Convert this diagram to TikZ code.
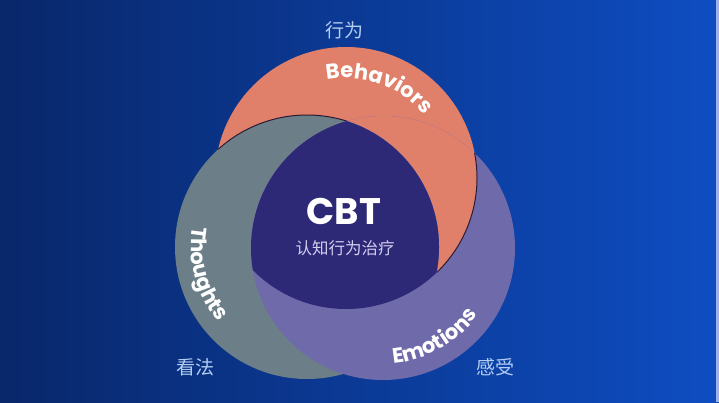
\documentclass[tikz,border=0pt]{standalone}
\usepackage{fontspec}
\usetikzlibrary{decorations.text}
\newfontfamily\pop{Poppins}
\newfontfamily\cjk{Noto Sans CJK SC}
\definecolor{bgA}{HTML}{09276A}
\definecolor{bgM}{HTML}{0B3A96}
\definecolor{bgB}{HTML}{0E4DC2}
\definecolor{salmon}{HTML}{E07F6A}
\definecolor{greyc}{HTML}{6C7E88}
\definecolor{lav}{HTML}{6F6AAA}
\definecolor{core}{HTML}{2E2977}
\definecolor{edgec}{HTML}{2A1C36}
\definecolor{labc}{HTML}{B3CEF2}
\definecolor{subc}{HTML}{D4CDF0}
\definecolor{stripc}{HTML}{9FB0E6}
\tikzset{
  ring/.style={decorate, decoration={text along path, text align=center, text color=white,
     text={|\pop\bfseries\fontsize{21}{24}\selectfont|#1}}},
  cnlabel/.style={text=labc, font=\cjk\fontsize{19}{22}\selectfont, inner sep=0pt},
  shadowedge/.style={draw=edgec, line width=1pt}
}
\begin{document}
\begin{tikzpicture}[x=1pt,y=1pt]
\useasboundingbox (0,0) rectangle (719,402);
\shade[left color=bgA, right color=bgB, middle color=bgM] (0,0) rectangle (719,402);
\fill[stripc] (716,0) rectangle (719,402);

\coordinate (S) at (346,224);
\coordinate (G) at (307,155);
\coordinate (P) at (383,154);

% salmon (Behaviors)
\fill[salmon] (S) circle[radius=131];
% purple (Emotions), under salmon
\fill[lav] (P) circle[radius=132];
\begin{scope}
  \clip (P) circle[radius=132];
  \fill[salmon] (S) circle[radius=131];
\end{scope}
\draw[shadowedge] (S) ++(11:131) arc[start angle=11, end angle=-46.3, radius=131];
% grey (Thoughts), over salmon
\fill[greyc] (G) circle[radius=132];
\draw[shadowedge] (G) ++(132.3:132) arc[start angle=132.3, end angle=72.5, radius=132];
% purple over grey
\begin{scope}
  \clip (G) circle[radius=132];
  \fill[lav] (P) circle[radius=132];
\end{scope}
% core
\begin{scope}
  \clip (S) circle[radius=131];
  \clip (G) circle[radius=132];
  \fill[core] (P) circle[radius=132];
\end{scope}

% ring texts
\path[ring=Behaviors] (S) ++(100:100) arc[start angle=100, end angle=40, radius=100];
\path[ring=Thoughts] (G) ++(162:116) arc[start angle=162, end angle=228, radius=116];
\path[ring=Emotions] (P) ++(267:116) arc[start angle=267, end angle=333, radius=116];

% centre
\node[text=white, font=\pop\bfseries\fontsize{37}{40}\selectfont, inner sep=0pt] (cbt) at (344,191) {CBT};
\node[text=subc, font=\cjk\fontsize{16.5}{20}\selectfont, inner sep=0pt] (sub) at (345,153.5) {认知行为治疗};

% outer labels
\node[cnlabel] (xw) at (344,372) {行为};
\node[cnlabel] (kf) at (195,35) {看法};
\node[cnlabel] (gs) at (495,35) {感受};
\end{tikzpicture}
\end{document}
